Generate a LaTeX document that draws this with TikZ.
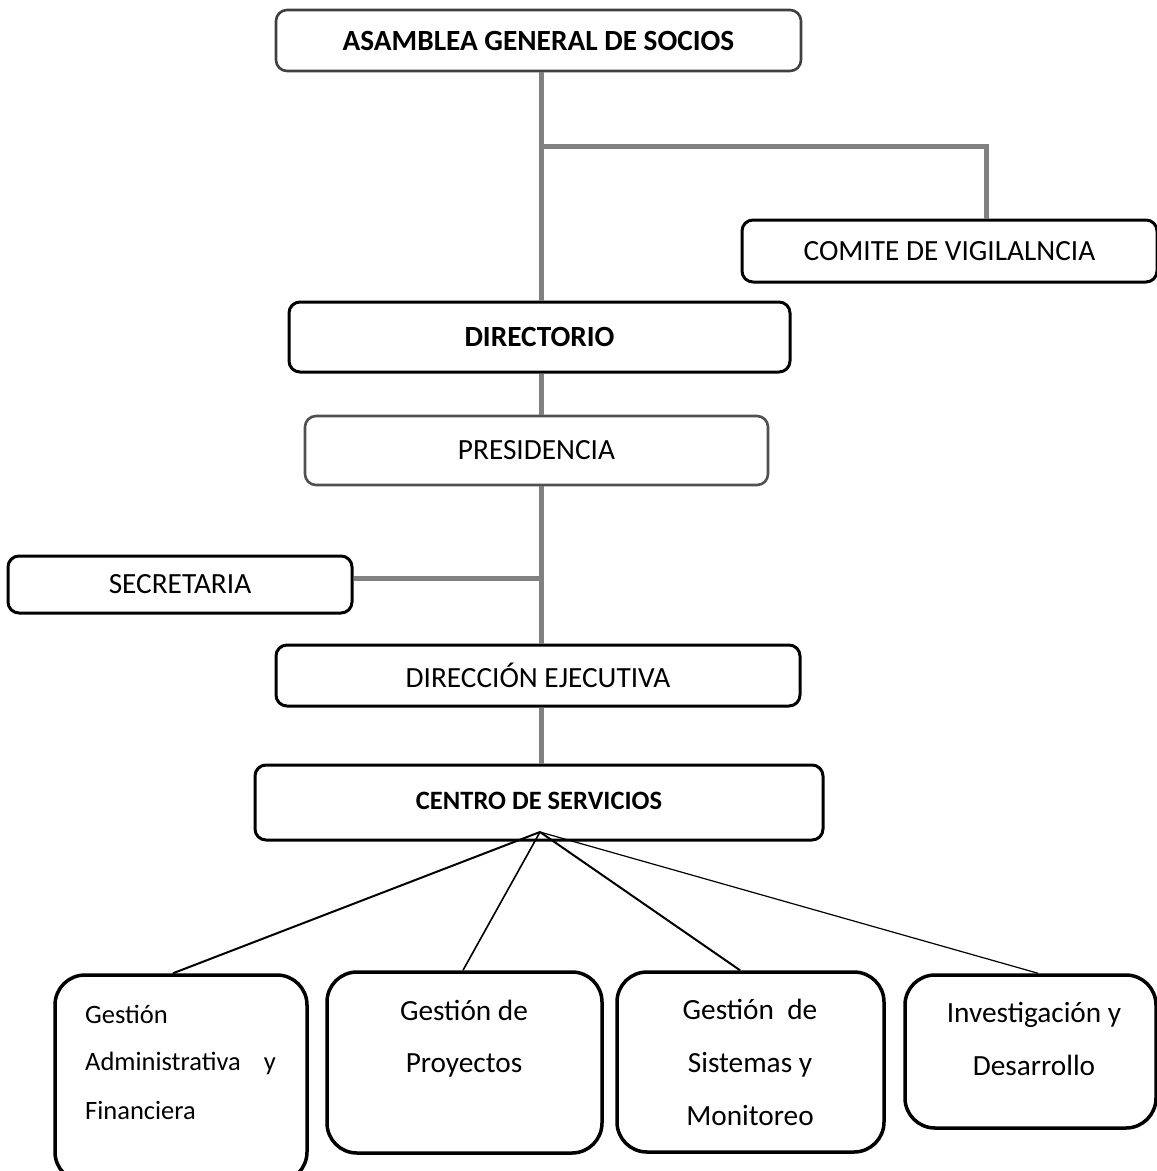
\documentclass[tikz,border=0pt]{standalone}
\usepackage{fontspec}
\setmainfont{Carlito}
\usetikzlibrary{calc}
\definecolor{conn}{HTML}{808080}
\definecolor{darkedge}{HTML}{404040}
\definecolor{midedge}{HTML}{505050}
\begin{document}
\begin{tikzpicture}[x=1pt,y=-1pt,
  box/.style={draw=black, line width=3pt, rounded corners=11pt, inner sep=0pt, align=center,
    font=\fontsize{29.3}{35}\selectfont},
  lowbox/.style={draw=black, line width=3.5pt, rounded corners=30pt, inner sep=0pt},
  grayline/.style={draw=conn, line width=5pt},
  fanline/.style={draw=black, line width=#1},
  txt/.style={inner sep=0pt, anchor=base, font=\fontsize{29.3}{35}\selectfont},
  txtl/.style={inner sep=0pt, anchor=base west, font=\fontsize{26.5}{32}\selectfont}]
\useasboundingbox (0,0) rectangle (1157,1171);
\clip (0,0) rectangle (1157,1171);

% top boxes
\node[box, draw=darkedge, line width=2.6pt, minimum width=525pt, minimum height=61pt, font=\bfseries\fontsize{29.3}{35}\selectfont] (asamblea) at (538.5,40.5) {ASAMBLEA GENERAL DE SOCIOS};
\node[box, minimum width=415pt, minimum height=62pt] (comite) at (949.5,251) {COMITE DE VIGILALNCIA};
\node[box, minimum width=501pt, minimum height=70pt, font=\bfseries\fontsize{29.3}{35}\selectfont] (directorio) at (539.5,337) {DIRECTORIO};
\node[box, draw=midedge, line width=2.6pt, minimum width=463pt, minimum height=69pt] (presidencia) at (536.5,450.5) {PRESIDENCIA};
\node[box, minimum width=344pt, minimum height=57pt] (secretaria) at (180,584.5) {SECRETARIA};
\node[box, minimum width=524pt, minimum height=61pt] (direccion) at (538,675.5) {DIRECCIÓN EJECUTIVA};
\node[box, minimum width=568pt, minimum height=75pt, font=\bfseries\fontsize{26.5}{32}\selectfont] (centro) at (539,802.5) {\raisebox{4pt}{CENTRO DE SERVICIOS}};

% bottom boxes
\node[lowbox, minimum width=252pt, minimum height=207pt] (adm) at (181,1078.5) {};
\node[lowbox, minimum width=275pt, minimum height=181pt] (proy) at (464.5,1062.5) {};
\node[lowbox, minimum width=267pt, minimum height=180pt] (sist) at (750.5,1062) {};
\node[lowbox, minimum width=251pt, minimum height=153pt] (inv) at (1030.5,1051.5) {};

% bottom texts
\node[txtl] (adm1) at (85,1023) {Gestión};
\node[txtl] (adm2) at (85,1070) {Administrativa\hspace{23pt}y};
\node[txtl] (adm3) at (85,1119) {Financiera};
\node[txt] (proy1) at (464,1020) {Gestión de};
\node[txt] (proy2) at (464,1072) {Proyectos};
\node[txt] (sist1) at (750,1019) {Gestión\ \ de};
\node[txt] (sist2) at (750,1072) {Sistemas y};
\node[txt] (sist3) at (750,1125) {Monitoreo};
\node[txt] (inv1) at (1034,1022) {Investigación y};
\node[txt] (inv2) at (1034,1075) {Desarrollo};

% gray connectors
\coordinate (trunk) at (541,0);
\coordinate (br) at (541,146);
\coordinate (cv) at (986,146);
\coordinate (sj) at (541,578);
\draw[grayline] (asamblea.south -| trunk) -- (directorio.north -| trunk);
\draw[grayline] (br) -- (cv) -- (cv |- comite.north);
\draw[grayline] (directorio.south -| trunk) -- (presidencia.north -| trunk);
\draw[grayline] (presidencia.south -| trunk) -- (direccion.north -| trunk);
\draw[grayline] (secretaria.east |- sj) -- (sj);
\draw[grayline] (direccion.south -| trunk) -- (centro.north -| trunk);

% fan connectors
\coordinate (fan) at (540,832);
\coordinate (xa) at (173,0);
\coordinate (xp) at (463,0);
\coordinate (xs) at (740,0);
\coordinate (xi) at (1038,0);
\draw[fanline=2pt] (fan) -- (adm.north -| xa);
\draw[fanline=1.6pt] (fan) -- (proy.north -| xp);
\draw[fanline=2pt] (fan) -- (sist.north -| xs);
\draw[fanline=1.2pt] (fan) -- (inv.north -| xi);
\end{tikzpicture}
\end{document}
